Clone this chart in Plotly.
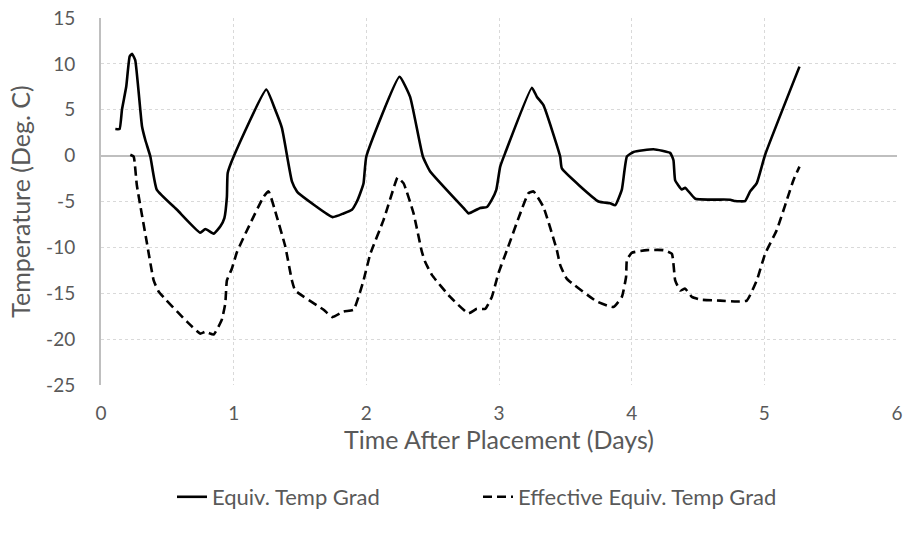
import plotly.graph_objects as go

# Equivalent temperature gradient (solid line)
equiv_days = [0.108, 0.14, 0.158, 0.19, 0.216, 0.234, 0.258, 0.309, 0.334, 0.372, 0.42,
              0.573, 0.748, 0.786, 0.849, 0.9, 0.93, 0.949, 0.955, 1.0, 1.246, 1.313,
              1.364, 1.439, 1.477, 1.489, 1.745, 1.828, 1.891, 1.929, 1.954, 1.979, 2.0,
              2.25, 2.33, 2.426, 2.48, 2.745, 2.77, 2.858, 2.909, 2.946, 2.98, 3.009,
              3.047, 3.248, 3.286, 3.335, 3.461, 3.474, 3.75, 3.838, 3.876, 3.926, 3.964,
              4.014, 4.165, 4.29, 4.315, 4.328, 4.378, 4.403, 4.48, 4.742, 4.78, 4.855,
              4.893, 4.943, 5.006, 5.265]
equiv_temp = [2.9, 2.9, 5.0, 7.5, 10.8, 11.1, 10.4, 3.2, 1.7, -0.1, -3.7,
              -5.9, -8.4, -8.0, -8.5, -7.7, -6.8, -4.5, -1.9, -0.1, 7.2, 5.0,
              3.0, -2.8, -3.9, -4.1, -6.7, -6.3, -5.9, -5.0, -4.1, -3.0, -0.1,
              8.6, 6.4, -0.1, -1.7, -5.9, -6.3, -5.7, -5.6, -4.8, -3.7, -1.2,
              0.3, 7.4, 6.4, 5.5, -0.1, -1.4, -5.0, -5.2, -5.4, -3.7, -0.1,
              0.4, 0.7, 0.3, -0.5, -2.7, -3.7, -3.5, -4.7, -4.8, -4.95, -4.95,
              -3.9, -3.0, 0.1, 9.7]

# Effective equivalent temperature gradient (dashed line)
eff_days = [0.221, 0.246, 0.27, 0.347, 0.397, 0.434, 0.648, 0.748, 0.786, 0.849, 0.91,
            0.937, 0.949, 0.987, 1.025, 1.125, 1.225, 1.263, 1.326, 1.389, 1.439, 1.464,
            1.678, 1.745, 1.828, 1.904, 1.941, 1.979, 2.03, 2.13, 2.218, 2.235, 2.28,
            2.356, 2.419, 2.444, 2.494, 2.632, 2.77, 2.833, 2.896, 2.946, 2.996, 3.06,
            3.16, 3.222, 3.26, 3.335, 3.436, 3.461, 3.51, 3.738, 3.863, 3.926, 3.958,
            3.964, 4.0, 4.115, 4.24, 4.303, 4.328, 4.366, 4.403, 4.454, 4.517, 4.667,
            4.79, 4.868, 4.943, 5.006, 5.094, 5.22, 5.265]
eff_temp = [0.1, -0.1, -3.2, -9.6, -13.6, -14.8, -18.1, -19.4, -19.2, -19.5, -17.9,
            -16.1, -13.6, -12.3, -10.5, -7.4, -4.5, -3.9, -6.7, -9.9, -13.6, -14.7,
            -16.8, -17.6, -17.0, -16.8, -15.4, -13.6, -10.7, -7.0, -3.0, -2.4, -3.0,
            -6.3, -10.5, -11.6, -13.0, -15.4, -17.2, -16.7, -16.7, -15.4, -12.8, -10.3,
            -6.3, -4.1, -3.9, -5.6, -10.3, -11.9, -13.4, -15.9, -16.5, -15.4, -13.2,
            -11.4, -10.6, -10.3, -10.3, -10.7, -13.6, -14.7, -14.5, -15.4, -15.7, -15.8,
            -15.9, -15.8, -13.6, -10.7, -8.1, -2.65, -1.2]

x_ticks = [0, 1, 2, 3, 4, 5, 6]
y_ticks = [-25, -20, -15, -10, -5, 0, 5, 10, 15]
y_tick_text = [str(v) for v in y_ticks]  # plain hyphen for negatives

font_family = "Lato, 'Open Sans', sans-serif"
text_color = "#595959"
grid_color = "#d9d9d9"

fig = go.Figure()
fig.add_trace(go.Scatter(
    x=equiv_days, y=equiv_temp, mode="lines", name="Equiv. Temp Grad",
    line=dict(color="black", width=2.6, shape="spline", smoothing=0.4),
))
fig.add_trace(go.Scatter(
    x=eff_days, y=eff_temp, mode="lines", name="Effective Equiv. Temp Grad",
    line=dict(color="black", width=2.6, dash="9px,5px", shape="spline", smoothing=0.4),
))

fig.update_layout(
    width=909, height=541,
    margin=dict(l=101, r=12, t=18, b=156),
    paper_bgcolor="white", plot_bgcolor="white",
    font=dict(family=font_family, size=19, color=text_color),
    showlegend=True,
    legend=dict(orientation="h", x=(172 - 101) / 796, xanchor="left",
                y=-112 / 367, yanchor="middle",
                font=dict(size=22, color=text_color), entrywidth=261,
                entrywidthmode="pixels", traceorder="normal"),
    xaxis=dict(
        range=[0, 6], tickvals=x_ticks, showgrid=True, gridcolor=grid_color,
        griddash="dot", gridwidth=1, zeroline=False, showline=False,
        ticks="outside", ticklen=11, tickcolor="rgba(0,0,0,0)",
        tickfont=dict(size=19, color=text_color), automargin=False,
        title=dict(text="Time After Placement (Days)", font=dict(size=25, color=text_color),
                   standoff=5),
    ),
    yaxis=dict(
        range=[-25, 15], tickvals=y_ticks, ticktext=y_tick_text, showgrid=True,
        gridcolor=grid_color, griddash="dot", gridwidth=1,
        zeroline=True, zerolinecolor="#bfbfbf", zerolinewidth=2,
        showline=True, linecolor="#bfbfbf", linewidth=2,
        ticks="outside", ticklen=20, tickcolor="rgba(0,0,0,0)",
        tickfont=dict(size=19, color=text_color), automargin=False,
        title=dict(text="Temperature (Deg. C)", font=dict(size=25, color=text_color),
                   standoff=8),
    ),
)

fig.write_html("out.html")
